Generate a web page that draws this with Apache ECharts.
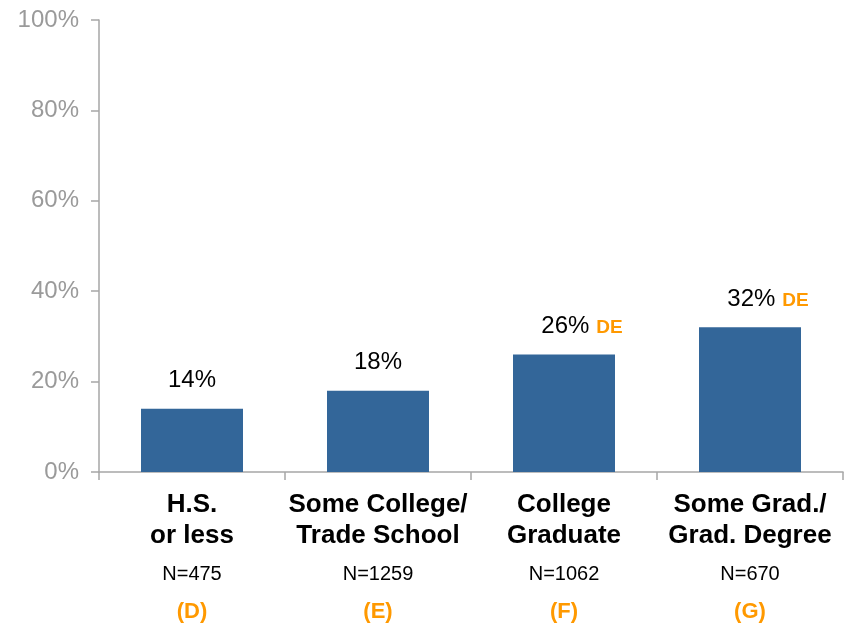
<!DOCTYPE html>
<html>
<head>
<meta charset="utf-8">
<script src="https://cdn.jsdelivr.net/npm/echarts@6/dist/echarts.min.js"></script>
<style>
html,body{margin:0;padding:0;background:#fff;}
#chart{width:849px;height:627px;}
</style>
</head>
<body>
<div id="chart"></div>
<script>
// ---- data ----
const categories = ['H.S.\nor less', 'Some College/\nTrade School', 'College\nGraduate', 'Some Grad./\nGrad. Degree'];
const values = [14, 18, 26, 32];
const sampleSizes = ['N=475', 'N=1259', 'N=1062', 'N=670'];
const groupLetters = ['(D)', '(E)', '(F)', '(G)'];
const significance = ['', '', 'DE', 'DE'];
const yTicks = [0, 20, 40, 60, 80, 100];

const FONT = "'Liberation Sans', Arial, sans-serif";
const ORANGE = '#ff9900';
const AXIS = '#a6a6a6';

const chart = echarts.init(document.getElementById('chart'), null, {renderer: 'canvas'});
chart.setOption({
  animation: false,
  backgroundColor: '#fff',
  grid: {left: 99, right: 6, top: 20, bottom: 155, containLabel: false},
  xAxis: {
    type: 'category',
    data: categories,
    axisLine: {lineStyle: {color: AXIS, width: 1.5}},
    axisTick: {show: true, length: 8, alignWithLabel: false, lineStyle: {color: AXIS, width: 1.5}},
    axisLabel: {
      margin: 17,
      interval: 0,
      fontFamily: FONT,
      formatter: function (v, i) {
        const lines = v.split('\n').map(s => '{b|' + s + '}').join('\n');
        return lines + '\n{n|' + sampleSizes[i] + '}\n{o|' + groupLetters[i] + '}';
      },
      rich: {
        b: {fontFamily: FONT, fontSize: 26, fontWeight: 'bold', color: '#000', lineHeight: 31},
        n: {fontFamily: FONT, fontSize: 20, color: '#000', lineHeight: 47},
        o: {fontFamily: FONT, fontSize: 22, fontWeight: 'bold', color: ORANGE, lineHeight: 28}
      }
    }
  },
  yAxis: {
    type: 'value',
    min: 0,
    max: 100,
    interval: 20,
    splitLine: {show: false},
    axisLine: {show: true, lineStyle: {color: AXIS, width: 1.5}},
    axisTick: {show: true, length: 8, lineStyle: {color: AXIS, width: 1.5}},
    axisLabel: {
      margin: 20,
      fontFamily: FONT,
      fontSize: 24,
      color: '#9a9a9a',
      formatter: function (v) { return yTicks.indexOf(v) >= 0 ? v + '%' : ''; }
    }
  },
  series: [{
    type: 'bar',
    data: values,
    barWidth: 102,
    itemStyle: {color: '#336699'},
    label: {
      show: true,
      position: 'top',
      distance: 16,
      fontFamily: FONT,
      formatter: function (p) {
        const sig = significance[p.dataIndex];
        if (sig) return '{p|}{v|' + p.value + '%}{s|' + sig + '}';
        return '{v|' + p.value + '%}';
      },
      rich: {
        p: {width: 36, lineHeight: 24},
        v: {fontFamily: FONT, fontSize: 24, color: '#000', lineHeight: 24},
        s: {fontFamily: FONT, fontSize: 19, fontWeight: 'bold', color: ORANGE, padding: [3, 0, 0, 7], lineHeight: 24}
      }
    }
  }]
});
</script>
</body>
</html>
